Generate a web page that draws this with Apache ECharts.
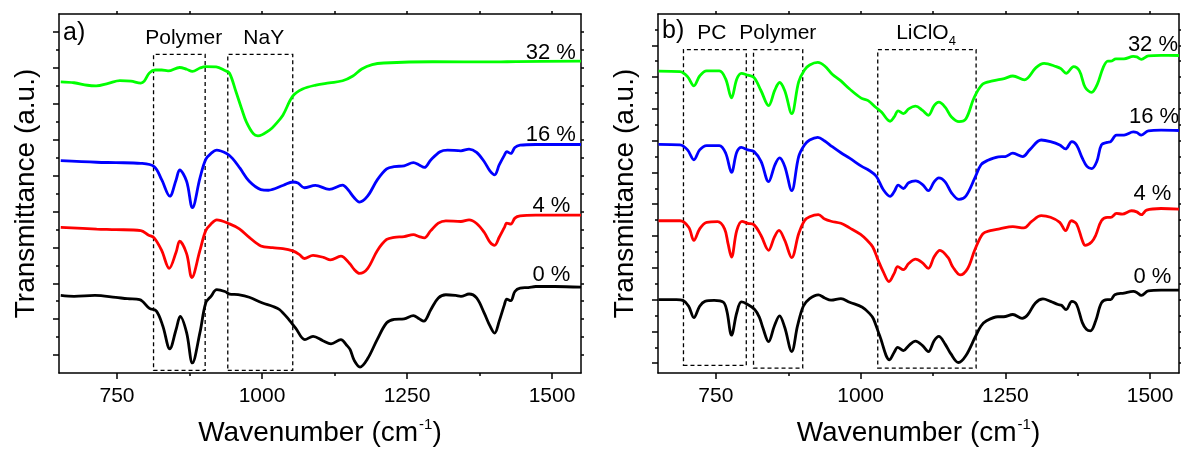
<!DOCTYPE html>
<html>
<head>
<meta charset="utf-8">
<script src="https://cdn.jsdelivr.net/npm/echarts@6/dist/echarts.min.js"></script>
<style>
  html, body { margin: 0; padding: 0; background: #ffffff; }
  #chart { width: 1181px; height: 452px; }
</style>
</head>
<body>
<div id="chart"></div>
<script>
// ---- Axis ticks ----
const xMajorTicks = [750, 1000, 1250, 1500];
const xMinorTicks = [875, 1125, 1375];
const xAllTicks = [750, 875, 1000, 1125, 1250, 1375, 1500];
const yTicksA_major = [1, 3, 5, 7, 9, 11, 13, 15, 17, 19];
const yTicksA_minor = [2, 4, 6, 8, 10, 12, 14, 16, 18];
const yTicksB_major = [0, 2, 4, 6, 8, 10, 12, 14, 16, 18, 20];
const yTicksB_minor = [1, 3, 5, 7, 9, 11, 13, 15, 17, 19, 21];

// ---- Series meta ----
const seriesLabels = ['0 %', '4 %', '16 %', '32 %'];
const seriesColors = ['#000000', '#ff0000', '#0000ff', '#00ff00'];

// ---- Panel a) PEO-based polymer with NaY: [wavenumber cm-1, transmittance a.u. (stacked)] ----
const a_0 = [[653,4.32],[676,4.27],[712,4.32],[748,4.21],[768,4.14],[789,4.09],[806,3.6],[818,3.45],[829,2.62],[841,1.35],[852,2.44],[859,3.15],[870,2.25],[880,0.56],[893,2.25],[903,3.9],[912,4.27],[922,4.64],[936,4.54],[944,4.4],[959,4.36],[978,4.22],[1001,3.9],[1018,3.72],[1030,3.54],[1047,2.95],[1058,2.5],[1074,1.86],[1088,2.04],[1105,1.8],[1119,1.62],[1136,1.86],[1146,1.55],[1152,1.3],[1159,0.7],[1169,0.33],[1182,0.79],[1199,1.89],[1215,2.8],[1228,2.99],[1245,3.02],[1261,3.2],[1271,3.02],[1279,2.89],[1291,3.53],[1304,4.18],[1317,4.36],[1334,4.32],[1343,4.27],[1357,4.4],[1370,4.18],[1383,3.35],[1393,2.62],[1401,2.22],[1409,2.89],[1418,3.81],[1422,4.12],[1429,4.03],[1436,4.54],[1445,4.73],[1459,4.76],[1472,4.82],[1505,4.82],[1550,4.78]];
const a_4 = [[653,8.11],[715,8.02],[748,7.99],[791,7.93],[804,7.69],[814,7.53],[827,6.83],[840,5.83],[852,6.74],[858,7.34],[870,6.65],[879,5.32],[893,6.83],[903,7.93],[912,8.3],[922,8.53],[944,8.31],[961,8.03],[978,7.56],[998,7.08],[1018,6.98],[1036,6.93],[1053,6.8],[1064,6.61],[1073,6.38],[1088,6.55],[1107,6.43],[1118,6.3],[1136,6.51],[1151,6.1],[1159,5.77],[1168,5.55],[1182,5.82],[1199,6.83],[1215,7.44],[1228,7.56],[1245,7.6],[1261,7.71],[1271,7.6],[1280,7.53],[1291,7.93],[1304,8.35],[1317,8.48],[1343,8.44],[1357,8.53],[1370,8.33],[1383,7.84],[1393,7.29],[1401,7.11],[1409,7.56],[1418,8.11],[1422,8.35],[1429,8.3],[1436,8.63],[1445,8.75],[1472,8.79],[1550,8.79]];
const a_16 = [[653,11.83],[715,11.74],[748,11.72],[791,11.68],[814,11.5],[827,10.77],[841,9.85],[852,10.77],[858,11.31],[870,10.68],[880,9.21],[893,10.86],[903,11.9],[912,12.23],[922,12.42],[939,12.23],[949,11.96],[962,11.41],[978,10.68],[998,10.22],[1011,10.18],[1037,10.46],[1053,10.64],[1062,10.58],[1073,10.32],[1092,10.45],[1116,10.23],[1139,10.47],[1148,10.22],[1159,9.76],[1168,9.52],[1182,9.85],[1199,10.77],[1215,11.37],[1228,11.5],[1245,11.54],[1261,11.72],[1271,11.59],[1280,11.45],[1291,11.87],[1307,12.33],[1320,12.42],[1343,12.38],[1357,12.47],[1370,12.29],[1383,11.78],[1393,11.26],[1401,11.04],[1409,11.59],[1418,12.14],[1422,12.33],[1429,12.23],[1436,12.56],[1445,12.69],[1472,12.73],[1550,12.73]];
const a_32 = [[653,16.22],[676,16.17],[699,16.03],[714,16.0],[735,16.14],[755,16.29],[774,16.26],[791,16.15],[797,16.26],[806,16.72],[816,16.88],[827,16.88],[838,16.83],[858,17.02],[870,16.92],[880,16.8],[893,16.99],[903,17.07],[921,17.05],[936,16.85],[944,16.7],[955,15.68],[965,14.71],[973,13.99],[985,13.33],[993,13.21],[1013,13.53],[1024,13.88],[1036,14.36],[1053,15.42],[1070,15.82],[1093,16.04],[1116,16.16],[1139,16.28],[1156,16.53],[1172,16.94],[1190,17.18],[1210,17.27],[1294,17.34],[1404,17.33],[1438,17.35],[1550,17.37]];

// ---- Panel b) PC / polymer / LiClO4 electrolytes ----
const b_0 = [[651,4.0],[682,4.0],[693,3.95],[703,3.58],[712,2.86],[722,3.58],[731,3.89],[747,3.95],[763,3.83],[769,3.27],[777,1.76],[786,3.17],[794,3.85],[802,3.75],[817,3.38],[825,2.9],[831,2.24],[841,1.35],[851,2.34],[860,2.98],[869,2.24],[881,0.73],[891,2.34],[901,3.58],[912,4.06],[927,4.3],[938,4.1],[949,3.96],[966,4.06],[981,3.83],[1003,3.52],[1016,3.1],[1022,2.8],[1033,1.72],[1050,0.21],[1058,0.68],[1064,0.99],[1074,0.79],[1084,1.14],[1095,1.39],[1107,1.1],[1117,0.73],[1127,1.41],[1135,1.68],[1146,1.2],[1156,0.58],[1169,0.04],[1182,0.48],[1198,1.65],[1208,2.34],[1217,2.65],[1237,2.92],[1247,2.92],[1263,3.06],[1279,2.82],[1289,3.06],[1302,3.79],[1315,4.04],[1328,3.89],[1341,3.69],[1347,3.64],[1355,3.37],[1365,3.89],[1373,3.69],[1383,2.55],[1390,2.13],[1397,2.03],[1406,2.65],[1416,3.79],[1426,4.0],[1432,4.0],[1439,4.31],[1455,4.41],[1471,4.51],[1477,4.45],[1485,4.26],[1497,4.55],[1519,4.6],[1550,4.6]];
const b_4 = [[651,8.96],[688,8.96],[703,8.55],[712,7.72],[722,8.45],[734,8.86],[753,8.9],[765,8.45],[771,7.52],[777,6.67],[786,8.34],[795,8.92],[805,8.8],[816,8.7],[828,8.03],[841,7.1],[851,7.93],[859,8.35],[869,7.72],[881,6.64],[893,8.14],[903,8.96],[912,9.21],[927,9.34],[938,9.07],[949,8.93],[966,8.8],[981,8.51],[1000,8.1],[1012,7.7],[1021,7.31],[1030,6.5],[1039,5.76],[1049,5.13],[1058,5.65],[1064,6.07],[1074,5.88],[1083,6.27],[1095,6.54],[1107,6.31],[1117,5.96],[1127,6.69],[1137,7.1],[1151,6.65],[1159,6.07],[1172,5.55],[1185,5.96],[1197,7.1],[1211,8.14],[1224,8.34],[1240,8.45],[1263,8.59],[1282,8.51],[1295,8.9],[1312,9.28],[1328,9.18],[1344,8.86],[1354,8.34],[1364,8.96],[1373,8.76],[1383,7.72],[1388,7.41],[1399,7.62],[1406,8.03],[1416,8.96],[1426,9.17],[1432,9.17],[1442,9.42],[1452,9.38],[1468,9.59],[1477,9.52],[1485,9.34],[1494,9.63],[1519,9.73],[1550,9.69]];
const b_16 = [[651,13.77],[688,13.73],[701,13.42],[712,12.8],[722,13.42],[734,13.69],[756,13.69],[767,13.21],[777,12.0],[786,13.27],[794,13.58],[805,13.42],[816,13.31],[828,12.69],[841,11.42],[852,12.48],[860,12.92],[869,12.38],[881,10.85],[893,13.0],[903,13.73],[912,14.04],[926,14.21],[938,13.98],[951,13.62],[966,13.24],[981,12.9],[1002,12.38],[1013,12.17],[1027,11.76],[1039,10.93],[1051,10.5],[1058,10.79],[1065,11.2],[1074,10.99],[1083,11.35],[1095,11.47],[1107,11.24],[1117,10.85],[1127,11.41],[1135,11.66],[1146,11.41],[1157,10.72],[1170,10.3],[1182,10.52],[1197,11.62],[1208,12.48],[1219,12.75],[1238,12.98],[1250,13.0],[1263,13.21],[1280,13.0],[1292,13.42],[1312,14.04],[1328,13.94],[1344,13.73],[1354,13.48],[1365,13.94],[1373,13.73],[1383,12.9],[1391,12.38],[1399,12.24],[1408,12.69],[1416,13.73],[1426,13.89],[1432,13.94],[1442,14.35],[1455,14.35],[1471,14.55],[1477,14.51],[1485,14.35],[1497,14.62],[1519,14.66],[1550,14.64]];
const b_32 = [[651,18.38],[688,18.34],[701,18.03],[712,17.45],[722,18.07],[734,18.39],[756,18.39],[767,17.87],[777,16.69],[786,17.87],[794,18.24],[805,18.12],[816,17.97],[828,17.14],[841,16.21],[852,17.2],[860,17.66],[869,17.14],[881,15.7],[893,17.7],[903,18.45],[912,18.76],[926,18.92],[938,18.7],[951,18.18],[966,17.76],[981,17.25],[1001,16.68],[1013,16.52],[1026,16.1],[1036,15.8],[1051,15.22],[1058,15.49],[1065,15.88],[1074,15.7],[1083,16.0],[1095,16.17],[1107,15.9],[1117,15.6],[1127,16.21],[1135,16.42],[1146,16.11],[1157,15.49],[1170,15.2],[1182,15.38],[1196,16.7],[1211,17.56],[1228,17.76],[1248,17.91],[1263,18.07],[1283,17.83],[1303,18.6],[1317,18.86],[1338,18.66],[1346,18.53],[1355,18.24],[1368,18.66],[1378,18.39],[1388,17.35],[1399,17.04],[1409,17.56],[1419,18.6],[1427,19.0],[1432,19.0],[1441,19.15],[1455,19.15],[1471,19.3],[1477,19.27],[1485,19.12],[1497,19.33],[1519,19.37],[1550,19.36]];

// ---- Curve label anchors: [wavenumber, level] ----
const labelPosA = [[1499, 5.45], [1499, 9.32], [1498, 13.26], [1498, 17.84]];
const labelPosB = [[1504, 5.45], [1504, 10.62], [1507, 15.49], [1505, 20.04]];

// ---- Dashed band regions: [x from, x to, level bottom, level top] ----
const boxesA = [[813, 902, 0.15, 17.75], [941, 1053, 0.15, 17.75]];
const boxesB = [[694, 802.5, -0.14, 19.73], [815, 900, -0.31, 19.73], [1029.6, 1199.5, -0.31, 19.73]];
const boxTitlesA = [['Polymer', 865, 18.67], ['NaY', 1003, 18.67]];
const boxTitlesB = [['PC', 743, 20.79], ['Polymer', 857, 20.79], ['LiClO{sub|4}', 1113, 20.79]];

const FONT = '"Liberation Sans", Arial, Helvetica, sans-serif';
const INK = '#000000';

function xAxesFor(grid) {
  const base = { type: 'value', gridIndex: grid, min: 650, max: 1550, splitLine: { show: false } };
  return [
    Object.assign({}, base, {
      position: 'bottom',
      axisLine: { show: true, onZero: false, lineStyle: { color: INK, width: 1.5 } },
      axisTick: { show: true, customValues: xMajorTicks, length: 6, lineStyle: { color: INK, width: 1.5 } },
      axisLabel: {
        show: true, customValues: xMajorTicks, fontSize: 21, fontFamily: FONT, color: INK, margin: 13,
        formatter: function (v) { return String(v); }
      },
      name: '{t|Wavenumber (cm}{s|-1}{t|)}',
      nameLocation: 'middle',
      nameGap: 44,
      nameTextStyle: {
        rich: {
          t: { fontSize: 28, fontFamily: FONT, color: INK, lineHeight: 32 },
          s: { fontSize: 15, fontFamily: FONT, color: INK, verticalAlign: 'top', lineHeight: 32, padding: [0, 0, 0, 1] }
        }
      }
    }),
    Object.assign({}, base, {
      position: 'bottom',
      axisLine: { show: false, onZero: false },
      axisTick: { show: true, customValues: xMinorTicks, length: 3, lineStyle: { color: INK, width: 1.5 } },
      axisLabel: { show: false }
    }),
    Object.assign({}, base, {
      position: 'top',
      axisLine: { show: true, onZero: false, lineStyle: { color: INK, width: 1.5 } },
      axisTick: { show: true, customValues: xAllTicks, length: 3, lineStyle: { color: INK, width: 1.5 } },
      axisLabel: { show: false }
    })
  ];
}

function yAxesFor(grid, min, max, major, minor) {
  const base = { type: 'value', gridIndex: grid, min: min, max: max, splitLine: { show: false } };
  return [
    Object.assign({}, base, {
      position: 'left',
      axisLine: { show: true, onZero: false, lineStyle: { color: INK, width: 1.5 } },
      axisTick: { show: true, customValues: major, length: 6, lineStyle: { color: INK, width: 1.5 } },
      axisLabel: { show: false },
      name: 'Transmittance (a.u.)',
      nameLocation: 'middle',
      nameGap: 17,
      nameTextStyle: { fontSize: 28, fontFamily: FONT, color: INK, lineHeight: 32 }
    }),
    Object.assign({}, base, {
      position: 'left',
      axisLine: { show: false, onZero: false },
      axisTick: { show: true, customValues: minor, length: 3, lineStyle: { color: INK, width: 1.5 } },
      axisLabel: { show: false }
    }),
    Object.assign({}, base, {
      position: 'right',
      axisLine: { show: true, onZero: false, lineStyle: { color: INK, width: 1.5 } },
      axisTick: { show: true, customValues: major.concat(minor), length: 3, lineStyle: { color: INK, width: 1.5 } },
      axisLabel: { show: false }
    })
  ];
}

function textMark(text, x, y, size) {
  return {
    coord: [x, y],
    symbol: 'circle',
    symbolSize: 1,
    itemStyle: { color: 'rgba(0,0,0,0)' },
    label: {
      show: true, position: 'inside', formatter: text,
      fontSize: size, fontFamily: FONT, color: INK,
      rich: { sub: { fontSize: 13, fontFamily: FONT, color: INK, verticalAlign: 'bottom', lineHeight: 30 } }
    }
  };
}

function panelSeries(panel, dataList, labelPos, boxes, titles) {
  const xIdx = panel * 3;
  const yIdx = panel * 3;
  return dataList.map(function (data, i) {
    const s = {
      type: 'line',
      name: seriesLabels[i] + (panel ? ' b' : ' a'),
      xAxisIndex: xIdx,
      yAxisIndex: yIdx,
      data: data,
      smooth: 0.35,
      showSymbol: false,
      symbol: 'none',
      silent: true,
      animation: false,
      clip: true,
      lineStyle: { color: seriesColors[i], width: 2.8 },
      z: 3,
      markPoint: {
        silent: true,
        animation: false,
        data: [textMark(seriesLabels[i], labelPos[i][0], labelPos[i][1], 22)]
      }
    };
    if (i === 0) {
      s.markArea = {
        silent: true,
        animation: false,
        itemStyle: { color: 'rgba(0,0,0,0)', borderColor: INK, borderWidth: 1.3, borderType: [4, 3] },
        data: boxes.map(function (b) { return [{ coord: [b[0], b[2]] }, { coord: [b[1], b[3]] }]; })
      };
      s.markPoint.data = s.markPoint.data.concat(titles.map(function (t) { return textMark(t[0], t[1], t[2], 21); }));
    }
    return s;
  });
}

const chart = echarts.init(document.getElementById('chart'), null, { renderer: 'canvas' });
chart.setOption({
  backgroundColor: '#ffffff',
  animation: false,
  grid: [
    { left: 59, top: 14, width: 522, bottom: 74 },
    { left: 658, top: 14, width: 521, bottom: 74 }
  ],
  xAxis: xAxesFor(0).concat(xAxesFor(1)),
  yAxis: yAxesFor(0, 0, 20, yTicksA_major, yTicksA_minor)
    .concat(yAxesFor(1, -0.62, 21.97, yTicksB_major, yTicksB_minor)),
  graphic: [
    { type: 'text', left: 63, top: 21, style: { text: 'a)', fontSize: 25, fontFamily: FONT, fill: INK } },
    { type: 'text', left: 662, top: 19, style: { text: 'b)', fontSize: 25, fontFamily: FONT, fill: INK } }
  ],
  series: panelSeries(0, [a_0, a_4, a_16, a_32], labelPosA, boxesA, boxTitlesA)
    .concat(panelSeries(1, [b_0, b_4, b_16, b_32], labelPosB, boxesB, boxTitlesB))
});
</script>
</body>
</html>
